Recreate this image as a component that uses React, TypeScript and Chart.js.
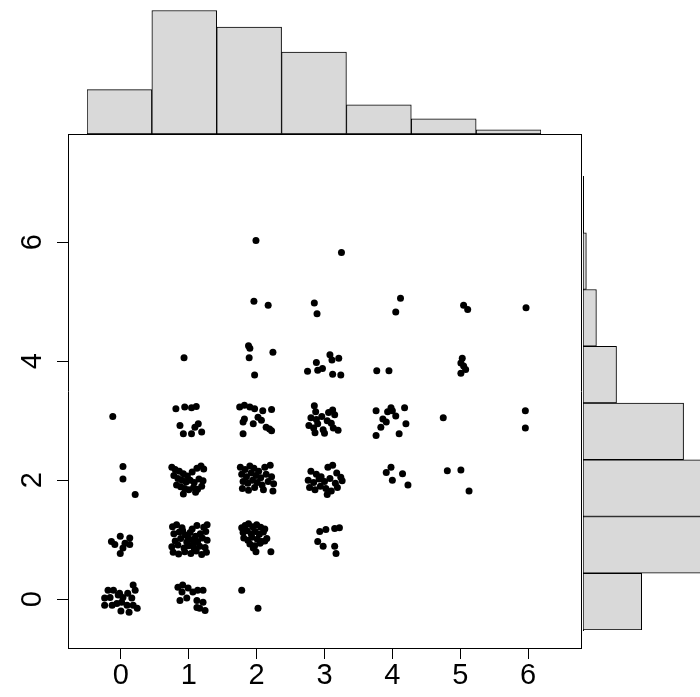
import React, { useEffect, useRef } from "react";
import { Chart, registerables } from "chart.js";

Chart.register(...registerables);

// ---- tick labels ----
const xTickValues = [0, 1, 2, 3, 4, 5, 6];
const yTickValues = [0, 2, 4, 6];

// ---- marginal histograms (counts) ----
const topBins = [0, 1, 2, 3, 4, 5, 6];
const topCounts = [32, 89, 77, 59, 21, 11, 3];
const rightBins = [0, 1, 2, 3, 4, 5, 6, 7];
const rightCounts = [35, 80, 84, 60, 20, 8, 2, 0];

// ---- jittered scatter points, grouped by x column: [x, y] ----
const column0: number[][] = [
  [-0.19, 0.15], [-0.11, 0.15], [-0.24, 0.02], [-0.16, 0.03], [-0.04, 0.07],
  [0.03, 0.03], [0.10, 0.10], [0.18, 0.24], [0.21, 0.15], [0.16, 0.02],
  [0.01, -0.05], [-0.06, -0.07], [-0.24, -0.10], [-0.13, -0.10], [0.0, -0.2],
  [0.12, -0.22], [0.24, -0.15], [0.18, -0.10], [0.09, -0.10], [-0.02, 0.10],
  [-0.14, 0.97], [-0.09, 0.92], [-0.01, 1.06], [0.13, 1.03], [0.13, 0.92],
  [0.03, 0.86], [-0.01, 0.77], [0.06, 0.94],
  [0.03, 2.23], [0.03, 2.02], [0.21, 1.76],
  [-0.12, 3.07],
];

const column1: number[][] = [
  [0.84, 0.20], [0.91, 0.24], [0.90, 0.12], [0.99, 0.19], [1.06, 0.12],
  [1.13, 0.15], [1.21, 0.15], [0.87, -0.02], [0.97, 0.02], [1.12, -0.02],
  [1.21, -0.05], [1.16, -0.15], [1.24, -0.19], [1.12, -0.14],
  [0.76, 1.22], [0.82, 1.25], [0.90, 1.20], [1.05, 1.18], [1.12, 1.24], [1.22, 1.21], [1.27, 1.25],
  [0.78, 1.10], [0.86, 1.13], [0.95, 1.08], [1.02, 1.12], [1.10, 1.06], [1.17, 1.10], [1.25, 1.14],
  [0.80, 0.98], [0.88, 1.02], [0.97, 0.96], [1.05, 1.00], [1.13, 0.97], [1.20, 1.03], [1.27, 0.99],
  [0.75, 0.88], [0.84, 0.91], [0.93, 0.86], [1.00, 0.90], [1.08, 0.85], [1.16, 0.89], [1.24, 0.87],
  [0.77, 0.79], [0.85, 0.76], [0.94, 0.80], [1.03, 0.77], [1.11, 0.81], [1.19, 0.75], [1.26, 0.79],
  [0.99, 1.03], [1.07, 0.93], [0.91, 1.15],
  [0.75, 2.22], [0.80, 2.18], [0.86, 2.15], [0.92, 2.11], [0.98, 2.07], [1.05, 2.14], [1.12, 2.20],
  [1.18, 2.24], [1.22, 2.19], [0.78, 2.08], [0.84, 2.03], [0.90, 2.00], [0.96, 1.97], [1.02, 2.00],
  [1.08, 1.96], [1.15, 2.02], [1.21, 1.99], [0.82, 1.92], [0.88, 1.89], [0.94, 1.86], [1.00, 1.84],
  [1.07, 1.88], [1.13, 1.85], [1.19, 1.90], [0.92, 1.77], [1.10, 1.80],
  [0.81, 3.20], [0.94, 3.23], [1.04, 3.22], [1.11, 3.24], [0.87, 2.92],
  [0.92, 2.78], [1.04, 2.78], [1.09, 2.89], [1.14, 2.95], [1.19, 2.81],
  [0.93, 4.06],
];

const column2: number[][] = [
  [1.78, 0.15], [2.02, -0.15],
  [1.78, 1.20], [1.83, 1.24], [1.88, 1.27], [1.94, 1.22], [2.00, 1.25], [2.06, 1.21], [2.12, 1.18],
  [1.80, 1.12], [1.86, 1.15], [1.92, 1.10], [1.98, 1.14], [2.04, 1.09], [2.10, 1.13],
  [1.81, 1.03], [1.87, 0.99], [1.93, 1.04], [2.01, 1.01], [2.07, 0.97], [2.15, 1.02],
  [1.90, 0.93], [1.97, 0.90], [2.05, 0.94], [2.12, 0.98], [1.99, 0.80], [2.21, 0.80], [1.95, 0.86],
  [1.76, 2.22], [1.83, 2.18], [1.90, 2.24], [1.96, 2.20], [2.03, 2.15], [2.12, 2.22], [2.20, 2.25],
  [1.78, 2.10], [1.85, 2.06], [1.92, 2.12], [1.99, 2.08], [2.06, 2.04], [2.14, 2.10], [2.22, 2.06],
  [1.80, 1.98], [1.87, 1.95], [1.94, 2.00], [2.01, 1.96], [2.08, 1.92], [2.17, 1.98], [2.25, 1.94],
  [1.79, 1.86], [1.88, 1.83], [1.97, 1.88], [2.10, 1.84], [2.24, 1.82],
  [1.75, 3.23], [1.82, 3.26], [1.90, 3.23], [1.97, 3.20], [2.09, 3.17], [2.22, 3.19],
  [1.82, 3.03], [1.80, 2.98], [2.02, 3.06], [2.07, 3.01], [1.95, 2.95], [1.80, 2.78],
  [2.14, 2.89], [2.19, 2.86], [2.22, 2.83],
  [1.88, 4.26], [1.90, 4.22], [1.89, 4.06], [2.24, 4.15], [1.97, 3.77],
  [1.96, 5.01], [2.17, 4.94],
  [1.99, 6.03],
];

const column3: number[][] = [
  [2.93, 1.14], [3.02, 1.17], [3.15, 1.19], [3.22, 1.20], [2.90, 0.97],
  [2.98, 0.89], [3.15, 0.89], [3.17, 0.77],
  [2.80, 2.15], [2.88, 2.10], [2.95, 2.06], [3.05, 2.22], [3.12, 2.25], [3.18, 2.12], [3.24, 2.05],
  [2.76, 2.00], [2.84, 1.96], [2.92, 2.02], [3.00, 1.98], [3.08, 2.03], [3.16, 1.95], [3.26, 1.99],
  [2.78, 1.88], [2.86, 1.84], [2.94, 1.90], [3.02, 1.86], [3.10, 1.82], [3.19, 1.88], [3.04, 1.76],
  [2.85, 3.25], [2.87, 3.15], [3.06, 3.14], [3.12, 3.18], [3.15, 3.10],
  [2.80, 3.05], [2.88, 3.02], [2.96, 3.07], [3.04, 3.00], [3.10, 2.96],
  [2.77, 2.92], [2.84, 2.88], [2.90, 2.95], [2.98, 2.85], [3.13, 2.88], [3.20, 2.84],
  [2.86, 2.80], [3.00, 2.79],
  [2.75, 3.83], [2.88, 3.98], [2.90, 3.85], [2.97, 3.88], [3.08, 4.11],
  [3.11, 4.02], [3.21, 4.05], [3.12, 3.78], [3.24, 3.77],
  [2.85, 4.98], [2.89, 4.80],
  [3.25, 5.83],
];

const column4: number[][] = [
  [3.91, 2.13], [3.98, 2.22], [4.15, 2.11], [4.00, 2.00], [4.23, 1.92],
  [3.76, 3.17], [3.86, 3.03], [3.93, 3.15], [4.00, 3.17], [4.18, 3.22], [3.83, 2.89],
  [4.20, 2.95], [3.76, 2.75], [4.10, 2.78], [3.91, 2.98], [4.05, 3.08], [3.98, 3.22],
  [3.77, 3.84], [3.95, 3.84],
  [4.12, 5.06], [4.05, 4.83],
];

const column5: number[][] = [
  [4.81, 2.16], [5.01, 2.17], [5.13, 1.82],
  [4.75, 3.05],
  [5.03, 4.05], [5.01, 3.97], [5.08, 3.86], [5.01, 3.80], [5.05, 3.92],
  [5.05, 4.94], [5.11, 4.87],
];

const column6: number[][] = [
  [5.96, 3.17], [5.96, 2.88],
  [5.97, 4.90],
];

const FONT = "'Liberation Sans', Arial, Helvetica, sans-serif";
const BAR_FILL = "#D9D9D9";

export default function App() {
  const mainRef = useRef<HTMLCanvasElement>(null);
  const topRef = useRef<HTMLCanvasElement>(null);
  const rightRef = useRef<HTMLCanvasElement>(null);

  useEffect(() => {
    const charts: Chart[] = [];
    const allPoints = [
      ...column0, ...column1, ...column2, ...column3, ...column4, ...column5, ...column6,
    ].map(([x, y]) => ({ x, y }));

    // ---------- main scatter ----------
    charts.push(
      new Chart(mainRef.current!, {
        type: "scatter",
        data: {
          datasets: [
            {
              data: allPoints,
              backgroundColor: "#000",
              borderColor: "#000",
              borderWidth: 0,
              pointRadius: 3.5,
              pointHoverRadius: 3.5,
            },
          ],
        },
        options: {
          animation: false,
          responsive: false,
          maintainAspectRatio: false,
          events: [],
          layout: { padding: { left: 0, top: 134, right: 119, bottom: 0 } },
          plugins: { legend: { display: false }, tooltip: { enabled: false } },
          scales: {
            x: {
              type: "linear",
              position: "bottom",
              min: -0.78,
              max: 6.78,
              afterBuildTicks: (s: any) => {
                s.ticks = xTickValues.map((v) => ({ value: v }));
              },
              afterFit: (s: any) => {
                s.height = 697 - 648;
              },
              grid: {
                display: true,
                drawOnChartArea: false,
                drawTicks: true,
                tickLength: 11,
                color: "#000",
                lineWidth: 1,
              },
              border: { display: true, color: "#000", width: 1 },
              ticks: {
                color: "#000",
                font: { family: FONT, size: 29 },
                padding: 0,
                maxRotation: 0,
                autoSkip: false,
              },
            },
            y: {
              type: "linear",
              position: "left",
              min: -0.82,
              max: 7.82,
              afterBuildTicks: (s: any) => {
                s.ticks = yTickValues.map((v) => ({ value: v }));
              },
              afterFit: (s: any) => {
                s.width = 68;
              },
              grid: {
                display: true,
                drawOnChartArea: false,
                drawTicks: true,
                tickLength: 11,
                color: "#000",
                lineWidth: 1,
              },
              border: { display: true, color: "#000", width: 1 },
              ticks: {
                color: "#000",
                font: { family: FONT, size: 29 },
                padding: 16,
                minRotation: 90,
                maxRotation: 90,
                crossAlign: "center",
                autoSkip: false,
              },
            },
            x2: {
              type: "linear",
              position: "top",
              min: -0.78,
              max: 6.78,
              afterFit: (s: any) => {
                s.height = 0;
              },
              grid: { display: false },
              ticks: { display: false },
              border: { display: true, color: "#000", width: 1 },
            },
            y2: {
              type: "linear",
              position: "right",
              min: -0.82,
              max: 7.82,
              afterFit: (s: any) => {
                s.width = 0;
              },
              grid: { display: false },
              ticks: { display: false },
              border: { display: true, color: "#000", width: 1 },
            },
          },
        },
      } as any)
    );

    // ---------- top histogram ----------
    charts.push(
      new Chart(topRef.current!, {
        type: "bar",
        data: {
          datasets: [
            {
              data: topBins.map((b, i) => ({ x: b, y: topCounts[i] })),
              backgroundColor: BAR_FILL,
              borderColor: "#000",
              borderWidth: 1,
              borderSkipped: false,
              barPercentage: 1,
              categoryPercentage: 1,
            },
          ],
        },
        options: {
          animation: false,
          responsive: false,
          maintainAspectRatio: false,
          events: [],
          layout: { padding: { left: 87, top: 0, right: 700 - 541, bottom: 6 } },
          plugins: { legend: { display: false }, tooltip: { enabled: false } },
          scales: {
            x: {
              type: "linear",
              display: false,
              min: -0.5,
              max: 6.5,
              offset: false,
              afterBuildTicks: (s: any) => {
                s.ticks = topBins.map((v) => ({ value: v }));
              },
            },
            y: { type: "linear", display: false, min: 0, max: 96.6 },
          },
        },
      } as any)
    );

    // ---------- right histogram ----------
    charts.push(
      new Chart(rightRef.current!, {
        type: "bar",
        data: {
          datasets: [
            {
              data: rightBins.map((b, i) => ({ x: rightCounts[i], y: b })),
              backgroundColor: BAR_FILL,
              borderColor: "#000",
              borderWidth: 1,
              borderSkipped: false,
              barPercentage: 1,
              categoryPercentage: 1,
            },
          ],
        },
        options: {
          indexAxis: "y",
          animation: false,
          responsive: false,
          maintainAspectRatio: false,
          events: [],
          layout: { padding: { left: 583, top: 176, right: 0, bottom: 697 - 630 } },
          plugins: { legend: { display: false }, tooltip: { enabled: false } },
          scales: {
            y: {
              type: "linear",
              position: "left",
              min: -0.5,
              max: 7.5,
              offset: false,
              afterBuildTicks: (s: any) => {
                s.ticks = rightBins.map((v) => ({ value: v }));
              },
              afterFit: (s: any) => {
                s.width = 0;
              },
              grid: { display: false },
              ticks: { display: false },
              border: { display: true, color: "#000", width: 1 },
            },
            x: { type: "linear", display: false, min: 0, max: 69.8 },
          },
        },
      } as any)
    );

    return () => charts.forEach((c) => c.destroy());
  }, []);

  return (
    <div
      style={{
        position: "fixed",
        left: 0,
        top: 0,
        width: 700,
        height: 697,
        background: "#fff",
        overflow: "hidden",
      }}
    >
      <canvas ref={mainRef} width={700} height={697} style={{ position: "absolute", left: 0, top: 0 }} />
      <canvas ref={topRef} width={700} height={140} style={{ position: "absolute", left: 0, top: 0 }} />
      <canvas ref={rightRef} width={700} height={697} style={{ position: "absolute", left: 0, top: 0 }} />
    </div>
  );
}
